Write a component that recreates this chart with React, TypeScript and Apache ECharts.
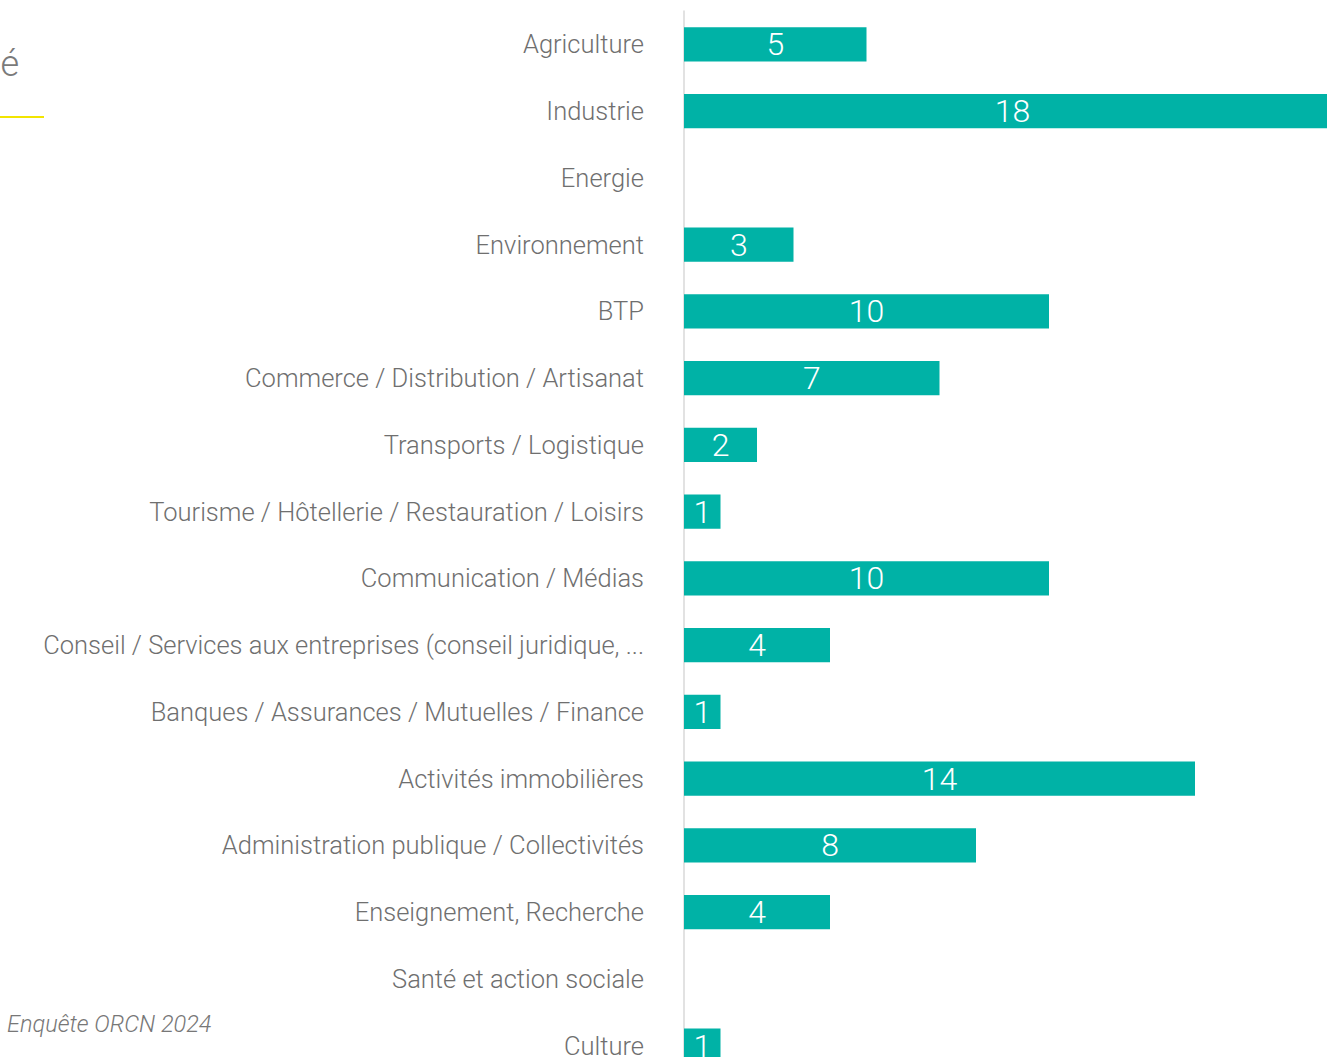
import React, { useEffect, useRef } from "react";
import * as echarts from "echarts";

const categories = [
  "Agriculture",
  "Industrie",
  "Energie",
  "Environnement",
  "BTP",
  "Commerce / Distribution / Artisanat",
  "Transports / Logistique",
  "Tourisme / Hôtellerie / Restauration / Loisirs",
  "Communication / Médias",
  "Conseil / Services aux entreprises (conseil juridique, ...",
  "Banques / Assurances / Mutuelles / Finance",
  "Activités immobilières",
  "Administration publique / Collectivités",
  "Enseignement, Recherche",
  "Santé et action sociale",
  "Culture",
];

const values = [5, 18, 0, 3, 10, 7, 2, 1, 10, 4, 1, 14, 8, 4, 0, 1];

const titleFragment = "é";
const sourceNote = "Enquête ORCN 2024";

export default function App() {
  const ref = useRef<HTMLDivElement>(null);

  useEffect(() => {
    if (!ref.current) return;
    const chart = echarts.init(ref.current, undefined, { renderer: "svg" });
    chart.setOption({
      animation: false,
      grid: { left: 684, top: 11, width: 657, height: 1068 },
      xAxis: {
        type: "value",
        min: 0,
        max: 18,
        show: false,
      },
      yAxis: {
        type: "category",
        data: categories,
        inverse: true,
        axisTick: { show: false },
        axisLine: { show: true, lineStyle: { color: "#d9d9d9", width: 1.5 } },
        axisLabel: {
          color: "#6f6f6f",
          fontSize: 25.5,
          fontFamily: "Roboto",
          fontWeight: 300,
          margin: 40,
        },
        splitLine: { show: false },
      },
      series: [
        {
          type: "bar",
          data: values,
          barWidth: "51%",
          itemStyle: { color: "#00B2A6" },
          label: {
            show: true,
            position: "inside",
            color: "#ffffff",
            fontSize: 32,
            fontFamily: "Roboto",
            fontWeight: 300,
            formatter: (p: any) => (p.value ? String(p.value) : ""),
          },
        },
      ],
      graphic: [
        {
          type: "text",
          x: 19,
          y: 64,
          style: {
            text: titleFragment,
            fontSize: 36,
            fontFamily: "Roboto",
            fontWeight: 300,
            fill: "#7a7a7a",
            align: "right",
            verticalAlign: "middle",
          },
        },
        {
          type: "line",
          shape: { x1: 0, y1: 117, x2: 44, y2: 117 },
          style: { stroke: "#F2E500", lineWidth: 2 },
        },
        {
          type: "text",
          x: 7,
          y: 1024,
          style: {
            text: sourceNote,
            fontSize: 23.5,
            fontFamily: "Roboto",
            fontWeight: 300,
            fontStyle: "italic",
            fill: "#777777",
            align: "left",
            verticalAlign: "middle",
          },
        },
      ],
    });
    return () => chart.dispose();
  }, []);

  return (
    <div
      style={{
        position: "absolute",
        left: 0,
        top: 0,
        width: 1327,
        height: 1057,
        overflow: "hidden",
        background: "#ffffff",
      }}
    >
      <div ref={ref} style={{ position: "absolute", left: 0, top: 0, width: 1360, height: 1090 }} />
    </div>
  );
}
